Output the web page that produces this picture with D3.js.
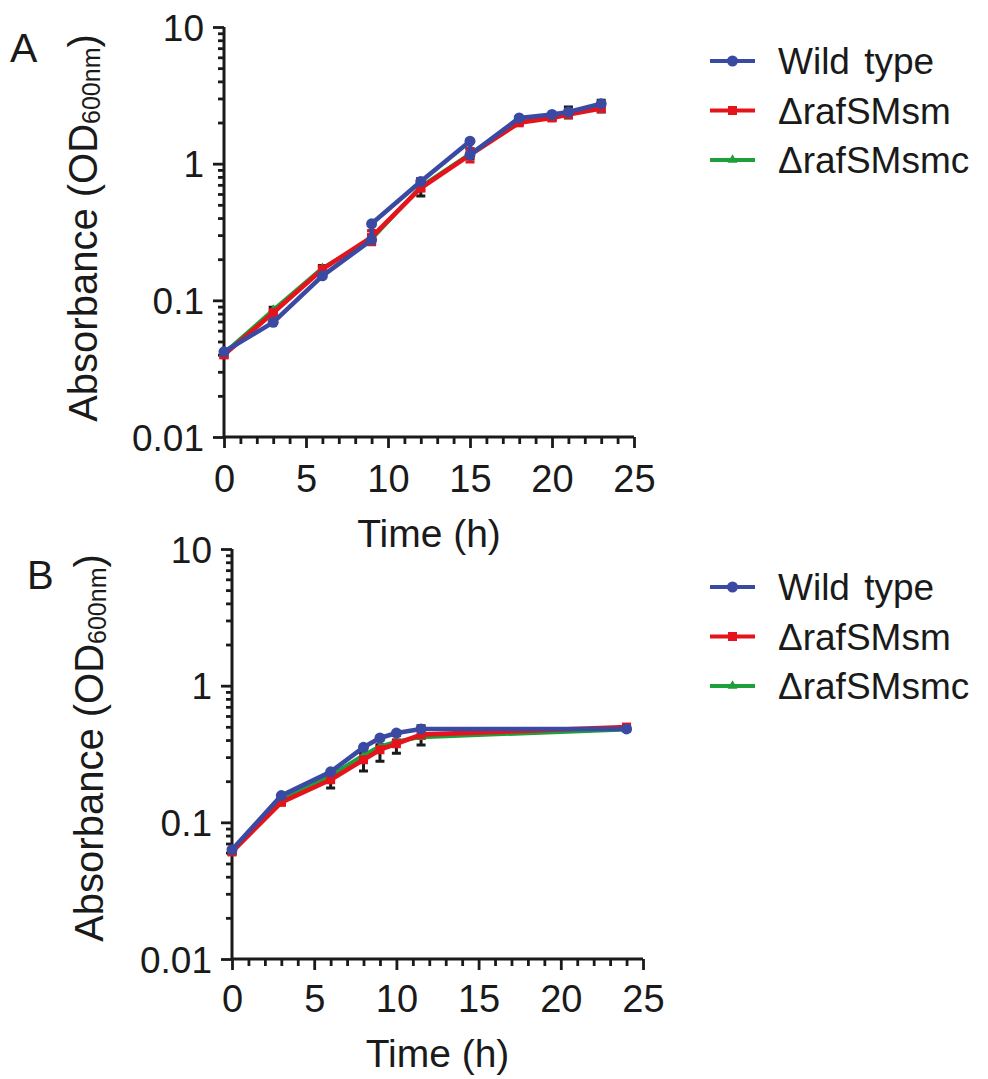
<!DOCTYPE html>
<html><head><meta charset="utf-8">
<script src="https://cdn.jsdelivr.net/npm/d3@7"></script>
<style>
body{margin:0;background:#fff}
svg{display:block}
text{font-family:"Liberation Sans",Arial,Helvetica,sans-serif;fill:#1a1a1a}
</style></head>
<body><svg id="c" width="988" height="1079"></svg>
<script>
// ---------- data ----------
const seriesNames = ["Wild type", "\u0394rafSMsm", "\u0394rafSMsmc"];
const xTickValues = [0, 5, 10, 15, 20, 25];
const yTickValues = [0.01, 0.1, 1, 10];
const yTickLabels = ["0.01", "0.1", "1", "10"];

// Panel A
const timesA_wt = [0, 3, 6, 9, 9, 12, 15, 15, 18, 20, 21, 23];
const wildTypeA = [0.042, 0.069, 0.151, 0.277, 0.363, 0.741, 1.46, 1.16, 2.16, 2.29, 2.39, 2.74];
const timesA = [0, 3, 6, 9, 12, 15, 18, 20, 21, 23];
const rafSMsmA = [0.040, 0.081, 0.169, 0.29, 0.664, 1.16, 1.99, 2.16, 2.29, 2.53];
const rafSMsmErrA = [0.002, 0.004, 0.008, 0.035, 0.03, 0.13, 0.06, 0.07, 0.08, 0.08];
const rafSMsmcA = [0.041, 0.085, 0.172, 0.28, 0.68, 1.18, 2.05, 2.2, 2.38, 2.65];
const rafSMsmcErrA = [0.002, 0.004, 0.008, 0.02, 0.1, 0.1, 0.1, 0.12, 0.22, 0.26];

// Panel B
const timesB = [0, 3, 6, 8, 9, 10, 11.5, 24];
const wildTypeB = [0.063, 0.157, 0.234, 0.354, 0.414, 0.45, 0.482, 0.482];
const rafSMsmB = [0.0607, 0.140, 0.205, 0.287, 0.34, 0.376, 0.438, 0.498];
const rafSMsmErrB = [0.002, 0.005, 0.027, 0.05, 0.06, 0.056, 0.07, 0.01];
const rafSMsmcB = [0.061, 0.147, 0.22, 0.31, 0.36, 0.39, 0.42, 0.478];
const rafSMsmcErrB = [0.002, 0.004, 0.006, 0.01, 0.01, 0.01, 0.01, 0.01];

// ---------- drawing ----------
const colors = ["#3a4aa2", "#e5141c", "#1d9f3b"];
const svg = d3.select("#c");

function marker(sel, i, x, y) {
  if (i === 0) sel.append("circle").attr("cx", x).attr("cy", y).attr("r", 5.5).attr("fill", colors[0]);
  else if (i === 1) sel.append("rect").attr("x", x - 4.5).attr("y", y - 4.5).attr("width", 9).attr("height", 9).attr("fill", colors[1]);
  else sel.append("path").attr("d", d3.symbol(d3.symbolTriangle, 42)()).attr("transform", `translate(${x},${y})`).attr("fill", colors[2]);
}

function errBars(sel, pts, x, y, color) {
  pts.forEach(p => {
    if (!p.e) return;
    const y1 = y(p.v - p.e), y2 = y(p.v + p.e), cx = x(p.t);
    sel.append("path").attr("d", `M${cx},${y1}V${y2}M${cx - 4.5},${y1}H${cx + 4.5}M${cx - 4.5},${y2}H${cx + 4.5}`)
      .attr("stroke", color).attr("stroke-width", 3).attr("fill", "none");
  });
}

function panel(cfg, series) {
  const g = svg.append("g");
  const x = d3.scaleLinear().domain([0, 25]).range([cfg.left, cfg.right]);
  const y = d3.scaleLog().domain([0.01, 10]).range([cfg.bottom, cfg.top]);

  const yMinor = [];
  [0.01, 0.1, 1].forEach(d => { for (let k = 2; k <= 9; k++) yMinor.push(d * k); });
  const xMinor = d3.range(0, 26).filter(v => v % 5 !== 0);

  const yMin = g.append("g").attr("transform", `translate(${cfg.left},0)`)
    .call(d3.axisLeft(y).tickValues(yMinor).tickSize(6).tickSizeOuter(0).tickFormat(""));
  const xMin = g.append("g").attr("transform", `translate(0,${cfg.bottom})`)
    .call(d3.axisBottom(x).tickValues(xMinor).tickSize(7).tickSizeOuter(0).tickFormat(""));
  const yMaj = g.append("g").attr("transform", `translate(${cfg.left},0)`)
    .call(d3.axisLeft(y).tickValues(yTickValues).tickSize(11).tickSizeOuter(0)
      .tickFormat((d, i) => yTickLabels[i]).tickPadding(9));
  const xMaj = g.append("g").attr("transform", `translate(0,${cfg.bottom})`)
    .call(d3.axisBottom(x).tickValues(xTickValues).tickSize(11).tickSizeOuter(0).tickFormat(d3.format("d")));

  [yMin, xMin, yMaj, xMaj].forEach(a => {
    a.selectAll("path.domain").attr("stroke", "#1a1a1a").attr("stroke-width", 3);
    a.selectAll(".tick line").attr("stroke", "#1a1a1a").attr("stroke-width", 2.8);
  });
  yMin.select("path.domain").remove(); xMin.select("path.domain").remove();
  yMaj.select("path.domain").attr("d", `M0,${cfg.top}V${cfg.bottom}`);
  xMaj.select("path.domain").attr("d", `M${cfg.left},0H${cfg.right}`);
  yMaj.selectAll(".tick text").attr("font-size", 37).attr("fill", "#1a1a1a")
    .attr("dy", "0.36em").attr("x", -20);
  xMaj.selectAll(".tick text").attr("font-size", 38).attr("fill", "#1a1a1a")
    .attr("dy", null).attr("y", cfg.xLabelBase - cfg.bottom);

  g.append("text").attr("x", (cfg.left + cfg.right) / 2).attr("y", cfg.xTitleBase)
    .attr("text-anchor", "middle").attr("font-size", 39).text("Time (h)");
  const yt = g.append("text").attr("transform", `translate(${cfg.yTitleX},${cfg.yTitleMid}) rotate(-90)`)
    .attr("text-anchor", "middle").attr("font-size", 40);
  yt.append("tspan").text("Absorbance (OD");
  yt.append("tspan").attr("font-size", 25).attr("dy", 3).text("600nm");
  yt.append("tspan").attr("dy", -3).text(")");
  g.append("text").attr("x", cfg.letterX).attr("y", cfg.letterY).attr("font-size", cfg.letterSize).text(cfg.letter);

  const line = d3.line().x(d => x(d.t)).y(d => y(d.v));
  const allPts = series.map(s => s.t.map((t, j) => ({ t, v: s.v[j], e: s.e ? s.e[j] : 0 })));
  // error bars that sit underneath every line (black)
  const under = g.append("g");
  series.forEach((s, i) => { if (s.e && s.under) errBars(under, allPts[i], x, y, "#1a1a1a"); });
  [2, 1, 0].forEach(i => {
    const s = series[i], pts = allPts[i];
    const sg = g.append("g");
    if (s.e && !s.under) errBars(sg, pts, x, y, s.errColor);
    sg.append("path").datum(pts).attr("d", line).attr("fill", "none")
      .attr("stroke", colors[i]).attr("stroke-width", i === 2 ? 4 : 4.6).attr("stroke-linejoin", "round");
    pts.forEach(p => marker(sg, i, x(p.t), y(p.v)));
  });

  seriesNames.forEach((name, i) => {
    const ly = cfg.legendY[i];
    g.append("line").attr("x1", 710).attr("x2", 755).attr("y1", ly).attr("y2", ly)
      .attr("stroke", colors[i]).attr("stroke-width", 4);
    marker(g, i, 732.5, ly);
    g.append("text").attr("x", 778).attr("y", ly).attr("dy", "0.36em").attr("font-size", 37)
      .attr("word-spacing", i === 0 ? 4 : 0).text(name);
  });
}

panel({ letter: "A", letterX: 10, letterY: 62, letterSize: 41, left: 224, right: 634, top: 27, bottom: 437,
  xLabelBase: 492, xTitleBase: 547, yTitleX: 97, yTitleMid: 228, legendY: [61, 110.5, 160] },
  [{ t: timesA_wt, v: wildTypeA },
   { t: timesA, v: rafSMsmA, e: rafSMsmErrA, errColor: colors[1] },
   { t: timesA, v: rafSMsmcA, e: rafSMsmcErrA, errColor: "#1a1a1a" }]);

panel({ letter: "B", letterX: 27, letterY: 589, letterSize: 40, left: 232, right: 643, top: 549, bottom: 959,
  xLabelBase: 1012, xTitleBase: 1067, yTitleX: 103, yTitleMid: 748, legendY: [587, 636.5, 686] },
  [{ t: timesB, v: wildTypeB },
   { t: timesB, v: rafSMsmB, e: rafSMsmErrB, under: true },
   { t: timesB, v: rafSMsmcB, e: rafSMsmcErrB, errColor: "#1a1a1a" }]);
</script></body></html>
